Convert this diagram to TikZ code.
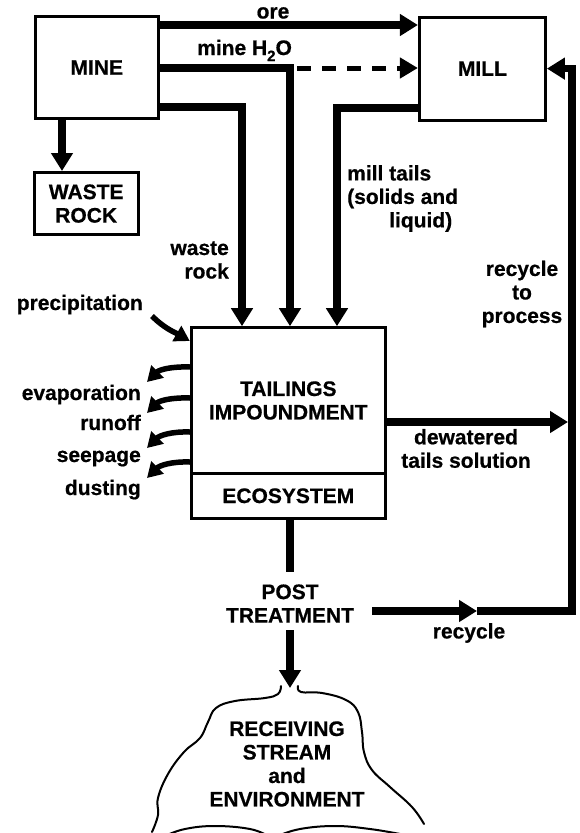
\documentclass[tikz,border=0pt]{standalone}
\usepackage{fontspec}
\setmainfont{Liberation Sans}[BoldFeatures={FakeBold=0.6}]
\usetikzlibrary{arrows.meta}
\begin{document}
\begin{tikzpicture}[x=1pt,y=-1pt,
  every node/.style={font=\bfseries\fontsize{21}{23.5}\selectfont, inner sep=0pt},
  box/.style={draw, line width=3pt, align=center},
  flow/.style={line width=7.5pt, -{Triangle[length=18pt,width=21pt]}},
  plainflow/.style={line width=7.5pt},
  dflow/.style={line width=5pt, dash pattern=on 14pt off 11pt, -{Triangle[length=18pt,width=20pt]}},
  sflow/.style={line width=5.5pt, -{Triangle[length=15pt,width=17pt]}},
  cloudline/.style={line width=2pt, line join=round, line cap=round}]
\useasboundingbox (0,0) rectangle (580,833);

% boxes
\node[box, minimum width=123.5pt, minimum height=101.6pt] (mine) at (96.8,67.5) {MINE};
\node[box, minimum width=126pt, minimum height=102.8pt] (mill) at (482.4,68.6) {MILL};
\node[box, minimum width=104.3pt, minimum height=62.2pt] (waste) at (86.2,203.6) {WASTE\\ROCK};
\node[box, minimum width=194pt, minimum height=145.6pt] (tail) at (288.3,400.5) {TAILINGS\\IMPOUNDMENT};
\node[box, minimum width=194pt, minimum height=45pt] (eco) at (288.3,495.8) {ECOSYSTEM};

% labels
\node[anchor=base] (ore) at (273,18.5) {ore};
\node[anchor=base west] (h2o) at (197,55) {mine H\raisebox{-6pt}{\fontsize{15}{15}\selectfont 2}O};
\node[anchor=east, align=right] (wrl) at (229,260) {waste\\rock};
\node[anchor=west, align=left] (mtl) at (347,198.5) {mill tails\\(solids and\\\hspace*{42pt}liquid)};
\node[align=center] (rtp) at (522,294) {recycle\\to\\process};
\node[anchor=base east] (prl) at (143,310) {precipitation};
\node[anchor=base east] (evl) at (141,400) {evaporation};
\node[anchor=base east] (rol) at (141,430) {runoff};
\node[anchor=base east] (sel) at (141,462) {seepage};
\node[anchor=base east] (dul) at (141,495) {dusting};
\node[align=center] (dwl) at (466,448.5) {dewatered\\tails solution};
\node[align=center] (post) at (290,603.5) {POST\\TREATMENT};
\node (rcl) at (469,633) {recycle};
\node[align=center] (cloud) at (287,764) {RECEIVING\\STREAM\\and\\ENVIRONMENT};

% free ends
\coordinate (hd) at (297,68);
\coordinate (dw) at (568,422);
\coordinate (rs) at (372,611);
\coordinate (rmid) at (477,611);
\coordinate (rcorner) at (572,611);
\coordinate (ct) at (290,688);
\coordinate (pr) at (152,316);
\coordinate (ev) at (147,382);
\coordinate (ro) at (147,413);
\coordinate (se) at (147,448);
\coordinate (du) at (147,478);

% connectors
\draw[flow] (mine.east |- 0,25) -- (mill.west |- 0,25);
\draw[flow] (mine.east |- 0,68) -| (tail.north -| 290,0);
\draw[dflow] (hd) -- (mill.west |- hd);
\draw[flow] (mine.east |- 0,107) -| (tail.north -| 242,0);
\draw[flow] (mill.west |- 0,108) -| (tail.north -| 337,0);
\draw[flow] (mine.south -| 62,0) -- (waste.north -| 62,0);
\draw[flow] (tail.east |- 0,422) -- (dw);
\draw[flow] (rs) -- (rmid);
\draw[flow] (rmid) -- (rcorner) |- (mill.east);
\draw[plainflow] (eco.south -| post.north) -- ([yshift=12pt]post.north);
\draw[flow] ([yshift=-7.5pt]post.south) -- (ct);

\draw[sflow] (pr) to[out=-45,in=150] (tail.west |- 0,341);
\draw[sflow] (tail.west |- 0,367) to[out=178,in=45] (ev);
\draw[sflow] (tail.west |- 0,398) to[out=178,in=45] (ro);
\draw[sflow] (tail.west |- 0,432) to[out=178,in=45] (se);
\draw[sflow] (tail.west |- 0,462) to[out=178,in=45] (du);

% cloud
\draw[cloudline] plot[smooth, tension=0.7] coordinates {(281,686) (278,694) (265,698) (235,701) (216,708) (208,722) (200,738) (184,752) (168,774) (158,798) (158,815) (152,832)};
\draw[cloudline] plot[smooth, tension=0.7] coordinates {(298,686) (301,692) (322,693) (346,700) (358,712) (362,732) (364,752) (372,770) (390,787) (412,807) (424,824)};
\draw[cloudline] plot[smooth, tension=0.7] coordinates {(165,836) (185,829) (215,826) (250,829) (268,836)};
\draw[cloudline] plot[smooth, tension=0.7] coordinates {(278,836) (300,829) (335,826) (370,829) (400,834)};
\end{tikzpicture}
\end{document}
